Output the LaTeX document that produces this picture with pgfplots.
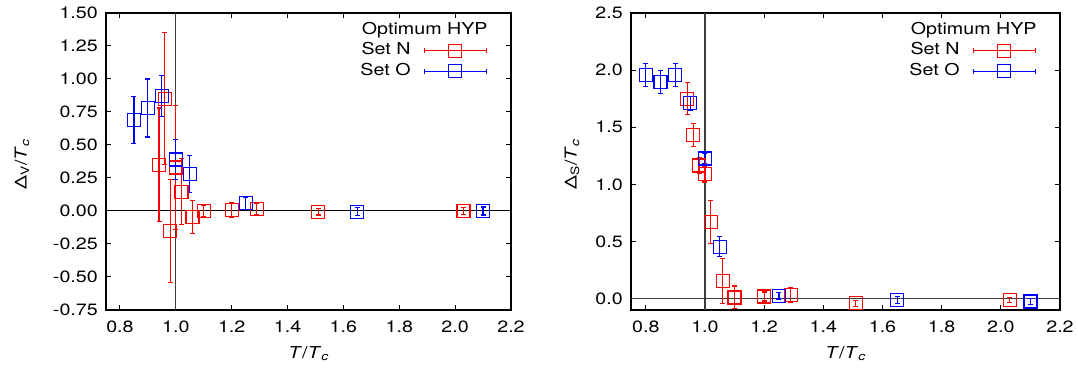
\documentclass[border=0pt]{standalone}
\usepackage{fontspec}
\setmainfont{TeX Gyre Heros}[FakeStretch=1.2]
\usepackage{pgfplots}
\pgfplotsset{compat=1.18}
\usepackage{pgfplotstable}
\definecolor{cN}{RGB}{255,0,0}
\definecolor{cO}{RGB}{0,0,255}
\definecolor{cL}{RGB}{60,60,60}
\newcommand\lf{\fontsize{16.4bp}{19bp}\selectfont}

\pgfplotstableread{
x y e
0.94 0.35 0.43
0.96 0.85 0.50
0.98 -0.15 0.39
1.00 0.33 0.47
1.02 0.145 0.25
1.06 -0.045 0.125
1.10 0.00 0.04
1.20 0.01 0.055
1.29 0.015 0.045
1.51 -0.005 0.025
2.03 0.00 0.025
}\leftN
\pgfplotstableread{
x y e
0.85 0.69 0.18
0.90 0.78 0.22
0.95 0.87 0.157
1.00 0.39 0.15
1.05 0.28 0.14
1.25 0.058 0.045
1.65 -0.005 0.03
2.10 0.00 0.03
}\leftO
\pgfplotstableread{
x y e
0.94 1.75 0.14
0.96 1.43 0.10
0.98 1.165 0.065
1.00 1.09 0.07
1.02 0.67 0.19
1.06 0.155 0.195
1.10 0.01 0.10
1.20 0.018 0.04
1.29 0.032 0.065
1.51 -0.041 0.025
2.03 -0.011 0.02
}\rightN
\pgfplotstableread{
x y e
0.80 1.96 0.10
0.85 1.895 0.10
0.90 1.96 0.10
0.95 1.71 0.06
1.00 1.226 0.045
1.05 0.455 0.09
1.25 0.026 0.03
1.65 -0.011 0.03
2.10 -0.026 0.025
}\rightO

\pgfplotsset{
  gp/.style={
    scale only axis, height=297bp,
    xmin=0.75, xmax=2.2,
    xtick={0.8,1.0,1.2,1.4,1.6,1.8,2.0,2.2},
    tick align=inside, tick pos=both, major tick length=5bp,
    minor tick num=0,
    axis line style={line width=1.2bp},
    every tick/.style={black, line width=1bp},
    /pgf/number format/assume math mode=true,
    /pgf/number format/1000 sep={},
    xticklabel style={/pgf/number format/fixed, /pgf/number format/fixed zerofill, /pgf/number format/precision=1, font=\lf, anchor=base, inner sep=0pt, yshift=-22bp},
    yticklabel style={font=\lf, anchor=east, inner sep=0pt, xshift=-8bp},
    xlabel style={font=\lf, at={(axis description cs:0.5,0)}, anchor=base, yshift=-48bp},
    xlabel={\textit{T}/\textit{T}\textsubscript{\textit{c}}},
    legend style={draw=none, fill=none, font=\lf, inner sep=0pt, row sep=4.5bp, column sep=13bp,
      nodes={inner sep=0pt, text height=12bp, text depth=4bp}},
    legend cell align=right, legend plot pos=right,
  },
  eb/.style={color=#1, draw=#1, line width=1.2bp, only marks, mark=square, mark size=6.5bp,
    mark options={solid, draw=#1, line width=1.2bp, fill=none},
    error bars/y dir=both, error bars/y explicit,
    error bars/error mark options={draw=#1, line width=1.2bp, mark size=2.5bp, rotate=90},
    error bars/error bar style={draw=#1, line width=1.2bp},
    legend image code/.code={
      \draw[draw=#1, mark=none, line width=1.2bp] (0bp,0bp) -- (62bp,0bp);
      \draw[draw=#1, mark=none, line width=1.2bp] (0bp,-2.5bp) -- (0bp,2.5bp) (62bp,-2.5bp) -- (62bp,2.5bp);
      \draw[draw=#1, mark=none, line width=1.2bp, fill=none] (24.5bp,-6.5bp) rectangle (37.5bp,6.5bp);
    }},
}

\begin{document}
\begin{tikzpicture}
\path[use as bounding box] (0,0) rectangle (1078bp,373bp);
\begin{axis}[gp, at={(106bp,63bp)}, anchor=south west, width=405bp,
  ymin=-0.75, ymax=1.5, ytick={-0.75,-0.5,-0.25,0,0.25,0.5,0.75,1,1.25,1.5},
  yticklabel style={/pgf/number format/fixed, /pgf/number format/fixed zerofill, /pgf/number format/precision=2},
  ylabel={Δ\textsubscript{V}/\textit{T}\textsubscript{\textit{c}}},
  ylabel style={font=\lf, at={(axis description cs:-0.2074,0.49)}, anchor=center},
  legend style={at={(axis description cs:0.9407,0.9697)}, anchor=north east}]
\addlegendimage{empty legend}
\addlegendentry{Optimum HYP\hspace*{-77bp}}
\addplot[draw=black, line width=1bp, forget plot] coordinates {(0.75,0) (2.2,0)};
\addplot[draw=cL, line width=1.3bp, forget plot] coordinates {(1,-0.75) (1,1.5)};
\addplot[eb=cN] table[x=x, y=y, y error=e] {\leftN};
\addlegendentry{Set N}
\addplot[eb=cO] table[x=x, y=y, y error=e] {\leftO};
\addlegendentry{Set O}
\end{axis}
\begin{axis}[gp, at={(631bp,63bp)}, anchor=south west, width=429bp,
  ymin=-0.1, ymax=2.5, ytick={0,0.5,1,1.5,2,2.5},
  yticklabel style={/pgf/number format/fixed, /pgf/number format/fixed zerofill, /pgf/number format/precision=1},
  ylabel={Δ\textsubscript{S}/\textit{T}\textsubscript{\textit{c}}},
  ylabel style={font=\lf, at={(axis description cs:-0.1375,0.49)}, anchor=center},
  legend style={at={(axis description cs:0.944,0.9697)}, anchor=north east}]
\addlegendimage{empty legend}
\addlegendentry{Optimum HYP\hspace*{-77bp}}
\addplot[draw=cL, line width=1.3bp, forget plot] coordinates {(0.75,0) (2.2,0)};
\addplot[draw=cL, line width=1.3bp, forget plot] coordinates {(1,-0.1) (1,2.5)};
\addplot[eb=cN] table[x=x, y=y, y error=e] {\rightN};
\addlegendentry{Set N}
\addplot[eb=cO] table[x=x, y=y, y error=e] {\rightO};
\addlegendentry{Set O}
\end{axis}
\end{tikzpicture}
\end{document}
